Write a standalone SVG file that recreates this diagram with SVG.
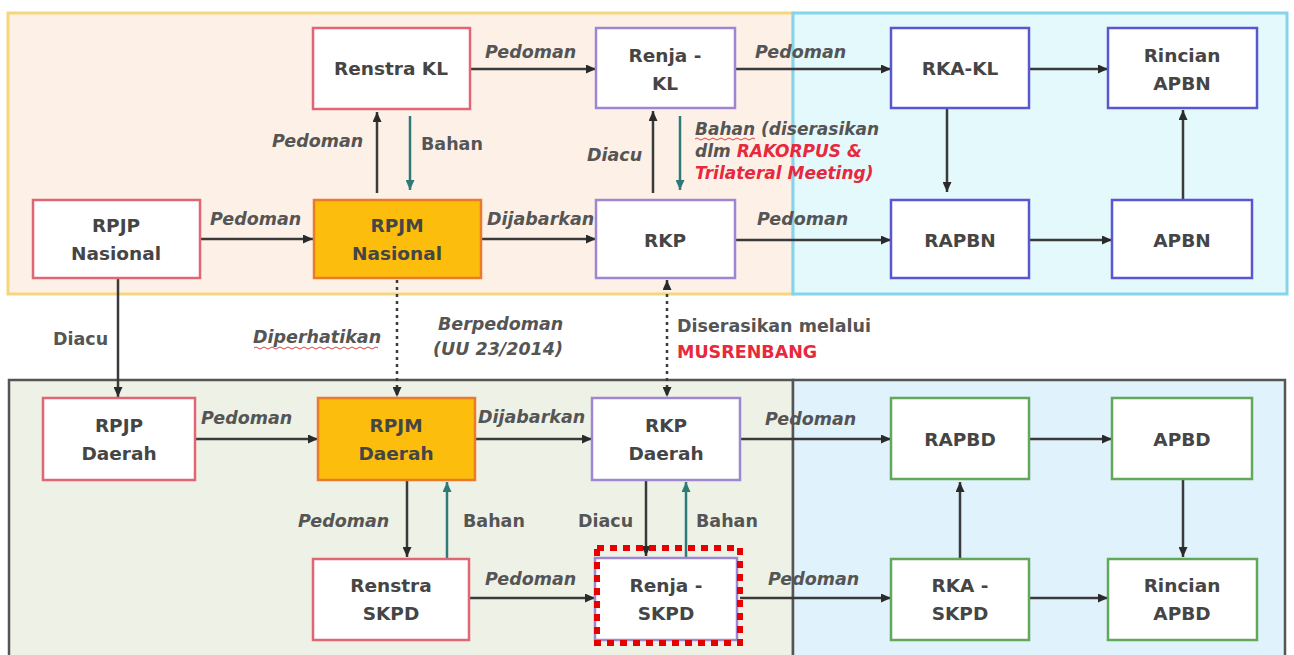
<svg xmlns="http://www.w3.org/2000/svg" width="1294" height="655" viewBox="0 0 1294 655">
<style>
.nt{font-family:"DejaVu Sans",sans-serif;font-weight:bold;font-size:18.5px;fill:#454545;text-anchor:middle}
.lb{font-family:"DejaVu Sans",sans-serif;font-weight:bold;font-style:italic;font-size:17.5px;fill:#555}
.ln{font-family:"DejaVu Sans",sans-serif;font-weight:bold;font-size:17.5px;fill:#555}
.sm{font-size:17px}
.red{fill:#e8283c}
.box{fill:#fff;stroke-width:2.5}
.rd{stroke:#e06674}
.pu{stroke:#9f86d2}
.bl{stroke:#5a55d0}
.gr{stroke:#62a85a}
.or{fill:#fdbd0c;stroke:#ea7b2a;stroke-width:2.5}
.c{fill:none;stroke:#3a3a3a;stroke-width:2.5}
.t{fill:none;stroke:#2f7a78;stroke-width:2.5}
.d{fill:none;stroke:#3a3a3a;stroke-width:2.5;stroke-dasharray:3 4}
.sq{fill:none;stroke:#e04040;stroke-width:1}
</style>
<defs>
<marker id="a" markerUnits="userSpaceOnUse" markerWidth="10" markerHeight="9" refX="10" refY="4.5" orient="auto"><path d="M0,0 L10,4.5 L0,9 z" fill="#2a2a2a"/></marker>
<marker id="at" markerUnits="userSpaceOnUse" markerWidth="10" markerHeight="9" refX="10" refY="4.5" orient="auto"><path d="M0,0 L10,4.5 L0,9 z" fill="#2f7a78"/></marker>
<marker id="as" markerUnits="userSpaceOnUse" markerWidth="10" markerHeight="9" refX="10" refY="4.5" orient="auto-start-reverse"><path d="M0,0 L10,4.5 L0,9 z" fill="#2a2a2a"/></marker>
</defs>
<rect width="1294" height="655" fill="#fff"/>
<g id="regions">
<rect x="8" y="13" width="785" height="281" fill="#fdf1e7" stroke="#f5d67c" stroke-width="3"/>
<rect x="793" y="13" width="494" height="281" fill="#e4f9fc" stroke="#86d4e9" stroke-width="3"/>
<rect x="9" y="380" width="784" height="290" fill="#eef2e6" stroke="#555" stroke-width="2.5"/>
<rect x="793" y="380" width="492" height="290" fill="#e0f2fb" stroke="#555" stroke-width="2.5"/>
</g>
<g id="connectors">
<path class="c" marker-end="url(#a)" d="M470,69 H596"/>
<path class="c" marker-end="url(#a)" d="M735,69 H891"/>
<path class="c" marker-end="url(#a)" d="M1029,69 H1108"/>
<path class="c" marker-end="url(#a)" d="M947,109 V192"/>
<path class="c" marker-end="url(#a)" d="M1183,200 V110"/>
<path class="c" marker-end="url(#a)" d="M1029,240 H1112"/>
<path class="c" marker-end="url(#a)" d="M735,240 H891"/>
<path class="c" marker-end="url(#a)" d="M200,239 H313"/>
<path class="c" marker-end="url(#a)" d="M481,239 H596"/>
<path class="c" marker-end="url(#a)" d="M377,193 V112"/>
<path class="t" marker-end="url(#at)" d="M410,116 V190"/>
<path class="c" marker-end="url(#a)" d="M653,193 V111"/>
<path class="t" marker-end="url(#at)" d="M680,116 V190"/>
<path class="c" marker-end="url(#a)" d="M118,278 V397"/>
<path class="d" marker-end="url(#a)" d="M397,280 V397"/>
<path class="d" marker-start="url(#as)" marker-end="url(#as)" d="M667,280 V397"/>
<path class="c" marker-end="url(#a)" d="M195,439 H318"/>
<path class="c" marker-end="url(#a)" d="M475,439 H592"/>
<path class="c" marker-end="url(#a)" d="M740,439 H891"/>
<path class="c" marker-end="url(#a)" d="M1029,439 H1112"/>
<path class="c" marker-end="url(#a)" d="M1183,480 V557"/>
<path class="c" marker-end="url(#a)" d="M960,559 V482"/>
<path class="c" marker-end="url(#a)" d="M1029,598 H1108"/>
<path class="c" marker-end="url(#a)" d="M740,598 H891"/>
<path class="c" marker-end="url(#a)" d="M469,598 H595"/>
<path class="c" marker-end="url(#a)" d="M407,480 V557"/>
<path class="t" marker-end="url(#at)" d="M447,558 V482"/>
<path class="c" marker-end="url(#a)" d="M646,480 V556"/>
<path class="t" marker-end="url(#at)" d="M686,558 V482"/>
</g>
<g id="labels">
<text class="lb" x="485" y="58">Pedoman</text>
<text class="lb" x="755" y="58">Pedoman</text>
<text class="lb" x="272" y="147">Pedoman</text>
<text class="ln" x="421" y="150">Bahan</text>
<text class="lb" x="587" y="161">Diacu</text>
<text class="lb sm" x="695" y="135">Bahan (diserasikan</text>
<text class="lb sm" x="695" y="157">dlm <tspan class="red">RAKORPUS &amp;</tspan></text>
<text class="lb sm red" x="695" y="179">Trilateral Meeting)</text>
<path class="sq" d="M695,139 q2,-2 4,0 t4,0 t4,0 t4,0 t4,0 t4,0 t4,0 t4,0 t4,0 t4,0 t4,0 t4,0 t4,0 t4,0 t4,0"/>
<text class="lb" x="210" y="225">Pedoman</text>
<text class="lb" x="487" y="225">Dijabarkan</text>
<text class="lb" x="757" y="225">Pedoman</text>
<text class="ln" x="53" y="345">Diacu</text>
<text class="lb" x="253" y="343">Diperhatikan</text>
<path class="sq" d="M254,348 q2,-2 4,0 t4,0 t4,0 t4,0 t4,0 t4,0 t4,0 t4,0 t4,0 t4,0 t4,0 t4,0 t4,0 t4,0 t4,0 t4,0 t4,0 t4,0 t4,0 t4,0 t4,0 t4,0 t4,0 t4,0 t4,0 t4,0 t4,0 t4,0 t4,0 t4,0 t4,0"/>
<text class="lb" x="438" y="330">Berpedoman</text>
<text class="lb" x="433" y="355">(UU 23/2014)</text>
<text class="ln" x="677" y="332">Diserasikan melalui</text>
<text class="ln red" x="677" y="358">MUSRENBANG</text>
<text class="lb" x="201" y="424">Pedoman</text>
<text class="lb" x="478" y="423">Dijabarkan</text>
<text class="lb" x="765" y="425">Pedoman</text>
<text class="lb" x="298" y="527">Pedoman</text>
<text class="ln" x="463" y="527">Bahan</text>
<text class="ln" x="578" y="527">Diacu</text>
<text class="ln" x="696" y="527">Bahan</text>
<text class="lb" x="485" y="585">Pedoman</text>
<text class="lb" x="768" y="585">Pedoman</text>
</g>
<g id="renstra-kl"><rect class="box rd" x="313" y="28" width="157" height="81"/><text class="nt" x="391" y="75">Renstra KL</text></g>
<g id="renja-kl"><rect class="box pu" x="596" y="28" width="139" height="80"/><text class="nt" x="665" y="62">Renja -</text><text class="nt" x="665" y="90">KL</text></g>
<g id="rka-kl"><rect class="box bl" x="891" y="28" width="138" height="80"/><text class="nt" x="960" y="75">RKA-KL</text></g>
<g id="rincian-apbn"><rect class="box bl" x="1108" y="28" width="149" height="80"/><text class="nt" x="1182" y="62">Rincian</text><text class="nt" x="1182" y="90">APBN</text></g>
<g id="rpjp-nasional"><rect class="box rd" x="33" y="200" width="167" height="78"/><text class="nt" x="116" y="232">RPJP</text><text class="nt" x="116" y="260">Nasional</text></g>
<g id="rpjm-nasional"><rect class="or" x="314" y="200" width="167" height="78"/><text class="nt" x="397" y="232">RPJM</text><text class="nt" x="397" y="260">Nasional</text></g>
<g id="rkp"><rect class="box pu" x="596" y="200" width="139" height="78"/><text class="nt" x="665" y="247">RKP</text></g>
<g id="rapbn"><rect class="box bl" x="891" y="200" width="138" height="78"/><text class="nt" x="960" y="247">RAPBN</text></g>
<g id="apbn"><rect class="box bl" x="1112" y="200" width="140" height="78"/><text class="nt" x="1182" y="247">APBN</text></g>
<g id="rpjp-daerah"><rect class="box rd" x="43" y="398" width="152" height="82"/><text class="nt" x="119" y="432">RPJP</text><text class="nt" x="119" y="460">Daerah</text></g>
<g id="rpjm-daerah"><rect class="or" x="318" y="398" width="157" height="82"/><text class="nt" x="396" y="432">RPJM</text><text class="nt" x="396" y="460">Daerah</text></g>
<g id="rkp-daerah"><rect class="box pu" x="592" y="398" width="148" height="82"/><text class="nt" x="666" y="432">RKP</text><text class="nt" x="666" y="460">Daerah</text></g>
<g id="rapbd"><rect class="box gr" x="891" y="398" width="138" height="81"/><text class="nt" x="960" y="446">RAPBD</text></g>
<g id="apbd"><rect class="box gr" x="1112" y="398" width="140" height="81"/><text class="nt" x="1182" y="446">APBD</text></g>
<g id="renstra-skpd"><rect class="box rd" x="313" y="559" width="156" height="81"/><text class="nt" x="391" y="592">Renstra</text><text class="nt" x="391" y="620">SKPD</text></g>
<g id="renja-skpd"><rect class="box pu" x="595" y="558" width="142" height="82"/><rect x="597" y="548" width="143" height="95" fill="none" stroke="#e60000" stroke-width="6" stroke-dasharray="7 6"/><text class="nt" x="666" y="592">Renja -</text><text class="nt" x="666" y="620">SKPD</text></g>
<g id="rka-skpd"><rect class="box gr" x="891" y="559" width="138" height="81"/><text class="nt" x="960" y="592">RKA -</text><text class="nt" x="960" y="620">SKPD</text></g>
<g id="rincian-apbd"><rect class="box gr" x="1108" y="559" width="149" height="81"/><text class="nt" x="1182" y="592">Rincian</text><text class="nt" x="1182" y="620">APBD</text></g>
</svg>
